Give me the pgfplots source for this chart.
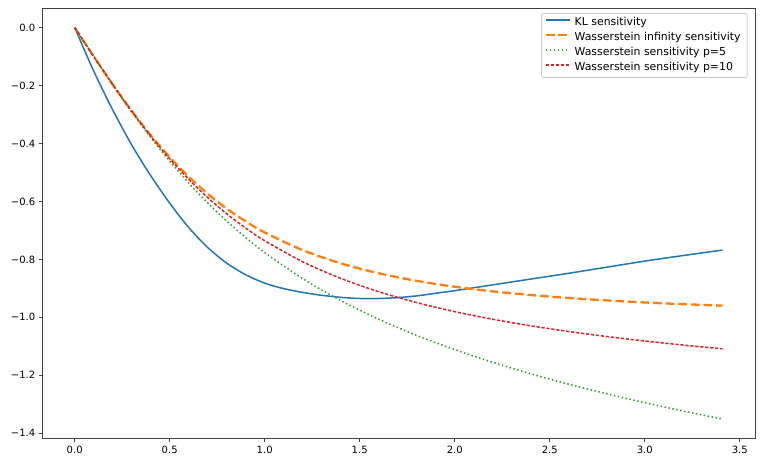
\documentclass[border=0pt]{standalone}
\usepackage{fontspec}
\setmainfont{DejaVu Sans}
\usepackage{pgfplots}
\pgfplotsset{compat=1.18}
\definecolor{c0}{HTML}{1F77B4}
\definecolor{c1}{HTML}{FF7F0E}
\definecolor{c2}{HTML}{2CA02C}
\definecolor{c3}{HTML}{D62728}
\begin{document}
\begin{tikzpicture}
\begin{axis}[name=ax, scale only axis, width=712.7pt, height=430.7pt,
  xmin=-0.1705, xmax=3.5805, ymin=-1.4189, ymax=0.0676,
  axis line style={black!75, line width=0.8pt},
  tick align=outside, xtick pos=bottom, ytick pos=left, major tick length=3.5pt,
  every tick/.style={black!75, line width=0.8pt},
  xtick={0,0.5,1,1.5,2,2.5,3,3.5},
  xticklabels={0.0,0.5,1.0,1.5,2.0,2.5,3.0,3.5},
  ytick={-1.4,-1.2,-1.0,-0.8,-0.6,-0.4,-0.2,0},
  yticklabels={−1.4,−1.2,−1.0,−0.8,−0.6,−0.4,−0.2,0.0},
  tick label style={font=\fontsize{10}{12}\selectfont},
  legend cell align=left,
  legend image code/.code={\draw[#1] (0pt,3pt) -- (24pt,3pt);},
  legend style={at={(1,1)}, anchor=north east, xshift=-7.3pt, yshift=-5pt,
    draw=black!20, fill=white, rounded corners=2pt, line width=0.8pt,
    font=\fontsize{10.9}{13}\selectfont,
    nodes={text height=7.5pt, text depth=2.5pt, inner ysep=2.5pt, inner xsep=3.8pt}},
]
\addplot[c0, line width=1.5pt, smooth] coordinates {
(0,0) (0.1,-0.150) (0.2,-0.284) (0.3,-0.405) (0.4,-0.511) (0.5,-0.606)
(0.6,-0.690) (0.7,-0.759) (0.8,-0.813) (0.9,-0.853) (1.0,-0.882) (1.1,-0.901)
(1.2,-0.914) (1.3,-0.924) (1.4,-0.931) (1.5,-0.935) (1.6,-0.935) (1.7,-0.932)
(1.8,-0.926) (1.9,-0.917) (2.0,-0.908) (2.2,-0.888) (2.4,-0.868) (2.6,-0.848)
(2.8,-0.827) (3.0,-0.806) (3.2,-0.787) (3.41,-0.768)};
\addlegendentry{KL sensitivity}
\addplot[c1, line width=2.3pt, dash pattern=on 8.8pt off 3.8pt, smooth] coordinates {
(0,0) (0.1,-0.0995) (0.2,-0.1961) (0.3,-0.2873) (0.4,-0.3714) (0.5,-0.4472)
(0.6,-0.5145) (0.7,-0.5735) (0.8,-0.6247) (0.9,-0.6690) (1.0,-0.7071)
(1.2,-0.7682) (1.4,-0.8137) (1.6,-0.8480) (1.8,-0.8742) (2.0,-0.8944)
(2.2,-0.9104) (2.4,-0.9231) (2.6,-0.9333) (2.8,-0.9417) (3.0,-0.9487)
(3.2,-0.9545) (3.41,-0.9596)};
\addlegendentry{Wasserstein infinity sensitivity}
\addplot[c2, line width=1.5pt, dash pattern=on 1.5pt off 2.5pt, smooth] coordinates {
(0,0) (0.1,-0.0996) (0.2,-0.1972) (0.3,-0.2907) (0.4,-0.3789) (0.5,-0.4609)
(0.6,-0.5363) (0.7,-0.6052) (0.8,-0.6678) (0.9,-0.7247) (1.0,-0.7765)
(1.2,-0.8665) (1.4,-0.9421) (1.6,-1.0066) (1.8,-1.0624) (2.0,-1.1115)
(2.2,-1.1553) (2.4,-1.1948) (2.6,-1.2308) (2.8,-1.2639) (3.0,-1.2946)
(3.2,-1.3232) (3.41,-1.3513)};
\addlegendentry{Wasserstein sensitivity p=5}
\addplot[c3, line width=1.5pt, dash pattern=on 3.3pt off 1.7pt, smooth] coordinates {
(0,0) (0.1,-0.0996) (0.2,-0.1966) (0.3,-0.2888) (0.4,-0.3745) (0.5,-0.4529)
(0.6,-0.5236) (0.7,-0.5866) (0.8,-0.6426) (0.9,-0.6920) (1.0,-0.7356)
(1.2,-0.8083) (1.4,-0.8656) (1.6,-0.9116) (1.8,-0.9492) (2.0,-0.9804)
(2.2,-1.0067) (2.4,-1.0293) (2.6,-1.0490) (2.8,-1.0663) (3.0,-1.0817)
(3.2,-1.0956) (3.41,-1.1088)};
\addlegendentry{Wasserstein sensitivity p=10}
\end{axis}
\pgfresetboundingbox
\path[use as bounding box] ([shift={(-42.3pt,-26.3pt)}]ax.south west) rectangle ([shift={(6pt,8pt)}]ax.north east);
\end{tikzpicture}
\end{document}
